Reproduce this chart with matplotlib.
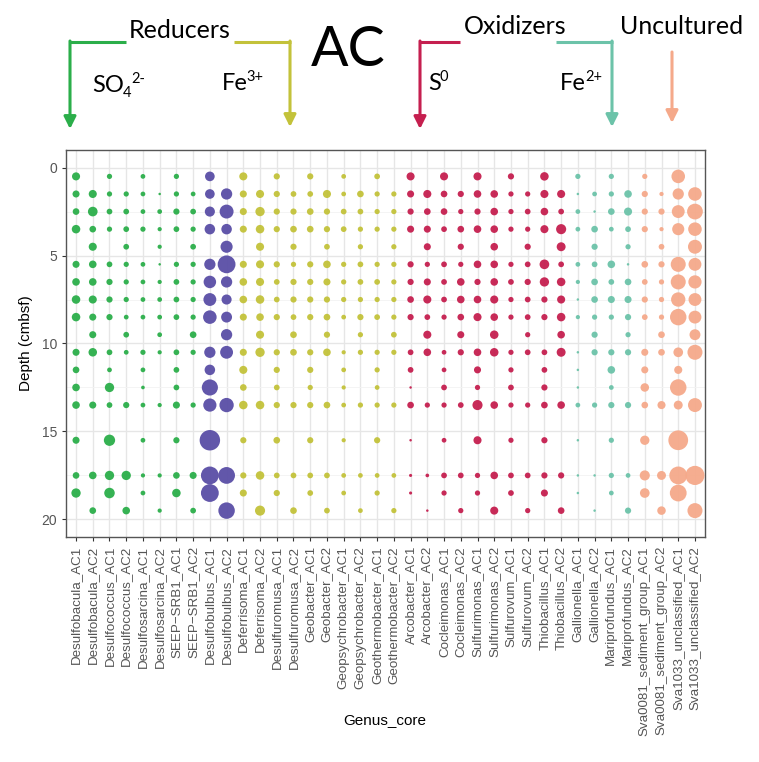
import matplotlib
matplotlib.use("Agg")
import matplotlib.pyplot as plt
from matplotlib.lines import Line2D
from matplotlib.patches import FancyArrowPatch

# ---------------- data ----------------
depths_ac1 = [0.5, 1.5, 2.5, 3.5, 5.5, 6.5, 7.5, 8.5, 10.5, 11.5, 12.5, 13.5, 15.5, 17.5, 18.5]
depths_ac2 = [1.5, 2.5, 3.5, 4.5, 5.5, 6.5, 7.5, 8.5, 9.5, 10.5, 13.5, 17.5, 19.5]

genera = ["Desulfobacula", "Desulfococcus", "Desulfosarcina", "SEEP\u2212SRB1",
          "Desulfobulbus",
          "Deferrisoma", "Desulfuromusa", "Geobacter", "Geopsychrobacter", "Geothermobacter",
          "Arcobacter", "Cocleimonas", "Sulfurimonas", "Sulfurovum", "Thiobacillus",
          "Gallionella", "Mariprofundus",
          "Sva0081_sediment_group", "Sva1033_unclassified"]
groups = ["SO4", "SO4", "SO4", "SO4", "Desulfobulbus",
          "Fe3", "Fe3", "Fe3", "Fe3", "Fe3",
          "S0", "S0", "S0", "S0", "S0",
          "Fe2", "Fe2", "Unc", "Unc"]
group_colors = {"SO4": "#2bae4a", "Desulfobulbus": "#5a4ea6", "Fe3": "#c3c23a",
                "S0": "#c51f4f", "Fe2": "#6cc3a9", "Unc": "#f5a98a"}

# relative abundance per genus and core (AC1 at depths_ac1, AC2 at depths_ac2)
desulfobacula_ac1 = [2.0, 1.4, 1.2, 2.3, 1.4, 1.7, 2.3, 2.3, 1.4, 1.2, 1.7, 1.7, 1.4, 1.2, 2.9]
desulfobacula_ac2 = [2.0, 3.2, 1.2, 2.0, 1.7, 1.7, 2.0, 1.4, 1.4, 2.3, 1.4, 1.7, 1.2]
desulfococcus_ac1 = [0.64, 0.64, 0.81, 0.64, 0.81, 1.0, 1.0, 1.0, 0.81, 0.49, 2.9, 0.81, 4.8, 2.9, 4.0]
desulfococcus_ac2 = [0.64, 0.81, 0.81, 0.81, 0.64, 0.64, 0.64, 0.49, 0.81, 0.49, 1.0, 2.9, 1.7]
desulfosarcina_ac1 = [0.49, 0.49, 0.49, 0.64, 0.49, 0.49, 0.49, 0.49, 0.64, 0.49, 0.25, 0.49, 0.49, 0.36, 0.49]
desulfosarcina_ac2 = [0.09, 0.49, 0.36, 0.36, 0.09, 0.36, 0.49, 0.49, 0.49, 0.36, 0.36, 0.36, 0.36]
seep_srb1_ac1 = [0.64, 0.64, 1.0, 0.81, 0.64, 0.81, 0.81, 0.81, 0.81, 0.81, 0.81, 1.4, 1.0, 1.2, 2.3]
seep_srb1_ac2 = [0.49, 0.81, 0.64, 0.81, 0.64, 0.64, 0.64, 0.64, 1.2, 0.64, 0.64, 1.4, 0.81]
desulfobulbus_ac1 = [3.2, 3.2, 3.6, 4.0, 4.8, 6.3, 6.8, 7.8, 4.8, 4.0, 12.3, 7.3, 23.0, 16.0, 16.0]
desulfobulbus_ac2 = [4.8, 8.4, 4.0, 5.8, 16.0, 4.8, 3.6, 4.4, 4.8, 6.8, 9.0, 13.7, 13.0]
deferrisoma_ac1 = [2.0, 1.4, 1.4, 1.4, 1.4, 1.7, 1.7, 1.4, 1.4, 2.0, 1.2, 2.3, 1.0, 1.0, 1.4]
deferrisoma_ac2 = [2.0, 2.9, 2.3, 2.0, 2.0, 2.0, 2.3, 1.7, 2.0, 2.9, 2.3, 2.3, 3.6]
desulfuromusa_ac1 = [1.0, 1.0, 1.0, 1.0, 1.0, 0.81, 0.81, 1.0, 1.0, 1.0, 0.81, 1.0, 1.2, 0.81, 1.0]
desulfuromusa_ac2 = [0.81, 1.0, 1.2, 1.0, 0.64, 1.0, 1.0, 0.81, 1.2, 1.2, 1.0, 0.81, 1.2]
geobacter_ac1 = [1.0, 0.81, 1.2, 1.2, 1.0, 1.0, 1.0, 1.0, 1.0, 1.0, 0.64, 1.0, 1.0, 0.81, 0.81]
geobacter_ac2 = [2.0, 1.0, 1.0, 0.81, 1.7, 1.4, 1.0, 1.2, 1.0, 1.7, 1.2, 0.81, 0.81]
geopsychrobacter_ac1 = [0.49, 0.49, 0.81, 0.81, 0.64, 0.64, 0.64, 0.49, 0.36, 0.49, 0.36, 0.49, 0.36, 0.49, 0.49]
geopsychrobacter_ac2 = [1.2, 0.81, 0.64, 0.64, 0.81, 0.81, 0.64, 1.0, 0.64, 0.64, 0.64, 0.49, 0.49]
geothermobacter_ac1 = [0.81, 0.64, 0.64, 0.64, 0.64, 0.81, 0.64, 0.81, 0.64, 0.64, 0.49, 0.64, 1.0, 0.49, 0.64]
geothermobacter_ac2 = [0.64, 0.64, 0.64, 0.64, 0.64, 0.64, 0.64, 0.64, 0.81, 0.64, 0.64, 0.49, 0.64]
arcobacter_ac1 = [2.0, 1.4, 1.0, 1.4, 1.0, 1.0, 1.2, 1.0, 0.81, 0.81, 0.09, 1.2, 0.09, 0.16, 0.16]
arcobacter_ac2 = [2.0, 1.2, 1.4, 1.4, 0.64, 1.4, 2.0, 0.81, 2.0, 1.7, 0.64, 0.25, 0.09]
cocleimonas_ac1 = [2.0, 1.2, 1.2, 0.81, 0.81, 0.81, 0.81, 0.64, 0.49, 0.49, 0.81, 0.64, 0.49, 0.81, 0.64]
cocleimonas_ac2 = [1.0, 0.64, 1.2, 1.0, 0.64, 1.7, 1.7, 1.2, 1.4, 1.0, 0.81, 0.81, 0.64]
sulfurimonas_ac1 = [2.0, 1.7, 1.0, 1.7, 1.7, 1.0, 1.7, 2.0, 1.7, 1.4, 0.64, 3.6, 2.0, 0.64, 0.64]
sulfurimonas_ac2 = [1.7, 1.7, 1.7, 1.7, 1.7, 1.7, 2.0, 1.7, 2.3, 2.3, 1.7, 1.7, 2.0]
sulfurovum_ac1 = [1.0, 0.64, 0.64, 0.64, 0.64, 0.81, 0.64, 0.64, 0.64, 0.64, 0.81, 0.64, 0.64, 0.81, 0.81]
sulfurovum_ac2 = [0.64, 0.81, 0.64, 1.0, 0.81, 1.0, 0.81, 0.81, 0.64, 0.81, 0.64, 0.81, 0.64]
thiobacillus_ac1 = [2.3, 2.0, 1.7, 2.0, 3.2, 2.9, 1.0, 1.0, 0.81, 0.81, 1.0, 1.2, 1.0, 1.0, 1.4]
thiobacillus_ac2 = [2.0, 0.81, 3.6, 2.6, 0.81, 2.3, 2.0, 2.3, 1.7, 2.6, 1.7, 1.0, 1.2]
gallionella_ac1 = [0.64, 0.09, 0.49, 0.49, 0.49, 0.36, 0.09, 0.36, 0.09, 0.09, 0.09, 0.49, 0.09, 0.09, 0.09]
gallionella_ac2 = [0.49, 0.09, 1.2, 1.0, 0.81, 1.2, 1.2, 0.64, 1.0, 1.0, 0.64, 0.09, 0.09]
mariprofundus_ac1 = [0.64, 0.64, 1.2, 0.49, 1.7, 0.81, 1.4, 0.64, 1.0, 1.7, 0.49, 1.0, 0.64, 0.64, 0.49]
mariprofundus_ac2 = [1.7, 2.0, 0.81, 0.64, 0.09, 1.2, 1.4, 1.0, 0.64, 1.0, 1.0, 0.49, 1.0]
sva0081_ac1 = [0.64, 1.0, 1.0, 1.0, 1.2, 0.81, 1.0, 0.81, 1.4, 1.4, 2.3, 1.2, 2.9, 3.6, 3.2]
sva0081_ac2 = [0.36, 1.0, 0.36, 0.81, 1.0, 0.64, 0.64, 0.64, 1.2, 1.2, 2.0, 2.6, 2.3]
sva1033_ac1 = [7.8, 4.8, 6.8, 5.8, 10.2, 10.2, 9.0, 13.0, 3.2, 2.0, 13.0, 2.6, 21.0, 16.0, 13.7]
sva1033_ac2 = [7.8, 11.6, 7.8, 8.4, 6.8, 7.3, 6.8, 6.8, 4.4, 10.2, 8.4, 19.4, 10.2]

values_ac1 = [desulfobacula_ac1, desulfococcus_ac1, desulfosarcina_ac1, seep_srb1_ac1,
              desulfobulbus_ac1, deferrisoma_ac1, desulfuromusa_ac1, geobacter_ac1,
              geopsychrobacter_ac1, geothermobacter_ac1, arcobacter_ac1, cocleimonas_ac1,
              sulfurimonas_ac1, sulfurovum_ac1, thiobacillus_ac1, gallionella_ac1,
              mariprofundus_ac1, sva0081_ac1, sva1033_ac1]
values_ac2 = [desulfobacula_ac2, desulfococcus_ac2, desulfosarcina_ac2, seep_srb1_ac2,
              desulfobulbus_ac2, deferrisoma_ac2, desulfuromusa_ac2, geobacter_ac2,
              geopsychrobacter_ac2, geothermobacter_ac2, arcobacter_ac2, cocleimonas_ac2,
              sulfurimonas_ac2, sulfurovum_ac2, thiobacillus_ac2, gallionella_ac2,
              mariprofundus_ac2, sva0081_ac2, sva1033_ac2]


def size_scale(v):
    # marker area (pt^2) from abundance
    return 20.0 * v ** 0.76


# ---------------- figure ----------------
W, H = 759, 762
fig = plt.figure(figsize=(W / 100, H / 100), dpi=100)
fig.patch.set_facecolor("white")
ax = fig.add_axes([66 / W, 1 - 537 / H, (705 - 66) / W, (537 - 150) / H])

labels = []
col = 0
for g, grp, v1, v2 in zip(genera, groups, values_ac1, values_ac2):
    c = group_colors[grp]
    for core, deps, vals in (("AC1", depths_ac1, v1), ("AC2", depths_ac2, v2)):
        labels.append(f"{g}_{core}")
        ax.scatter([col] * len(deps), deps, s=[size_scale(v) for v in vals],
                   color=c, linewidths=0, alpha=0.95, zorder=3)
        col += 1

n = len(labels)
ax.set_xlim(-0.6, n - 1 + 0.6)
ax.set_ylim(21.0, -1.0)
ax.set_xticks(range(n))
ax.set_xticklabels(labels, rotation=90, fontsize=9.6, color="#555555",
                   family="Liberation Sans")
ax.set_yticks([0, 5, 10, 15, 20])
ax.set_yticks([2.5, 7.5, 12.5, 17.5], minor=True)
ax.set_yticklabels(["0", "5", "10", "15", "20"], fontsize=10, color="#555555",
                   family="Liberation Sans")
ax.tick_params(axis="both", which="major", length=3, color="#333333", width=0.8)
ax.tick_params(axis="y", which="minor", length=0)
ax.grid(True, which="major", color="#e6e6e6", linewidth=1.0, zorder=0)
ax.grid(True, which="minor", axis="y", color="#f2f2f2", linewidth=0.6, zorder=0)
ax.set_axisbelow(True)
for sp in ax.spines.values():
    sp.set_color("#555555")
    sp.set_linewidth(1.0)

ax.set_ylabel("Depth (cmbsf)", fontsize=11, family="Liberation Sans", labelpad=6)
fig.text(385 / W, 1 - 720 / H, "Genus_core", ha="center", va="center",
         fontsize=11, family="Liberation Sans")

# ---------------- header annotations ----------------
def fx(x):
    return x / W


def fy(y):
    return 1 - y / H


def hline(x0, x1, y, c):
    fig.add_artist(Line2D([fx(x0), fx(x1)], [fy(y), fy(y)], color=c, lw=2.2,
                          transform=fig.transFigure, solid_capstyle="butt"))


def arrow(x, y0, y1, c):
    fig.add_artist(FancyArrowPatch((fx(x), fy(y0)), (fx(x), fy(y1)),
                                   transform=fig.transFigure, arrowstyle="-|>",
                                   mutation_scale=18, color=c, lw=2.2,
                                   shrinkA=0, shrinkB=0))


renderer = fig.canvas.get_renderer()


def chem(x, y, base, sub=None, sup=None, size=17):
    # formula drawn as plain text pieces: base, subscript, then superscript
    t = fig.text(fx(x), fy(y), base, ha="left", va="baseline", fontsize=size,
                 family="Lato", color="black")
    xe = t.get_window_extent(renderer).x1 - 1
    if sub is not None:
        ts = fig.text(xe / W, fy(y + 5), sub, ha="left", va="baseline",
                      fontsize=size * 0.62, family="Lato", color="black")
        xe = ts.get_window_extent(renderer).x1
    if sup is not None:
        fig.text(xe / W, fy(y - 9), sup, ha="left", va="baseline",
                 fontsize=size * 0.62, family="Lato", color="black")


hfont = dict(family="Lato", color="black")
gc = group_colors
hline(69, 126, 42, gc["SO4"])
arrow(70, 41, 129, gc["SO4"])
hline(234, 291, 42, gc["Fe3"])
arrow(290, 41, 127, gc["Fe3"])
hline(419, 460, 42, gc["S0"])
arrow(420, 41, 129, gc["S0"])
hline(556, 613, 42, gc["Fe2"])
arrow(612, 41, 127, gc["Fe2"])
arrow(672, 52, 123, gc["Unc"])

fig.text(fx(180), fy(31), "Reducers", ha="center", va="center", fontsize=18, **hfont)
fig.text(fx(515), fy(26), "Oxidizers", ha="center", va="center", fontsize=18, **hfont)
fig.text(fx(682), fy(26), "Uncultured", ha="center", va="center", fontsize=18, **hfont)
fig.text(fx(348), fy(50), "AC", ha="center", va="center", fontsize=40, **hfont)
chem(92, 92, "SO", sub="4", sup="2-")
chem(222, 90, "Fe", sup="3+")
chem(428, 90, "S", sup="0")
chem(560, 90, "Fe", sup="2+")

fig.savefig("out.png", dpi=100, facecolor="white")
